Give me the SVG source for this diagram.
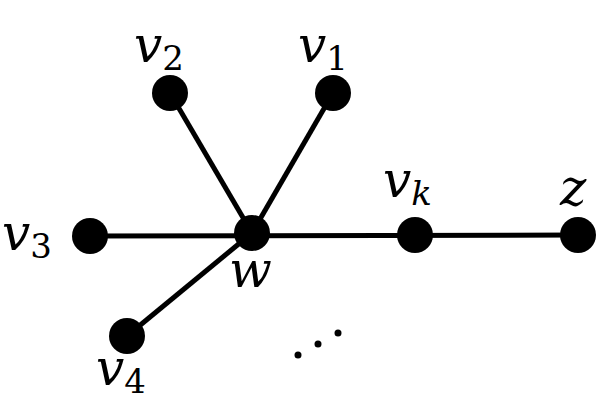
<svg xmlns="http://www.w3.org/2000/svg" width="600" height="417" viewBox="0 0 600 417">
<style>
.n{fill:#000}
.e{stroke:#000;stroke-width:5}
.l{font-family:"DejaVu Serif","Liberation Serif",serif;font-style:italic;font-size:50px;fill:#000}
.s{font-family:"DejaVu Serif","Liberation Serif",serif;font-style:normal;font-size:34px;fill:#000}
.si{font-family:"DejaVu Serif","Liberation Serif",serif;font-style:italic;font-size:34px;fill:#000}
</style>
<rect width="600" height="417" fill="#fff"/>
<g id="connectors">
<line class="e" x1="252" y1="233" x2="170" y2="93"/>
<line class="e" x1="252" y1="233" x2="333" y2="93"/>
<line class="e" x1="90" y1="236" x2="578" y2="235"/>
<line class="e" x1="252" y1="233" x2="127" y2="336"/>
</g>
<g id="w"><circle class="n" cx="252" cy="233" r="18"/><text class="l" x="229" y="287">w</text></g>
<g id="v2"><circle class="n" cx="170" cy="93" r="18"/><text class="l" x="134" y="62">v<tspan class="s" dy="8">2</tspan></text></g>
<g id="v1"><circle class="n" cx="333" cy="93" r="18"/><text class="l" x="298" y="62">v<tspan class="s" dy="8">1</tspan></text></g>
<g id="v3"><circle class="n" cx="90" cy="236" r="18"/><text class="l" x="2" y="250">v<tspan class="s" dy="8">3</tspan></text></g>
<g id="vk"><circle class="n" cx="415" cy="235" r="18"/><text class="l" x="383" y="197">v<tspan class="si" dy="8">k</tspan></text></g>
<g id="z"><circle class="n" cx="578" cy="235" r="18"/><text class="l" x="560" y="205">z</text></g>
<g id="v4"><circle class="n" cx="127" cy="336" r="18"/><text class="l" x="96" y="385">v<tspan class="s" dy="8">4</tspan></text></g>
<g id="dots"><circle class="n" cx="298" cy="355" r="3.5"/><circle class="n" cx="318" cy="344" r="3.5"/><circle class="n" cx="338" cy="333" r="3.5"/></g>
</svg>
